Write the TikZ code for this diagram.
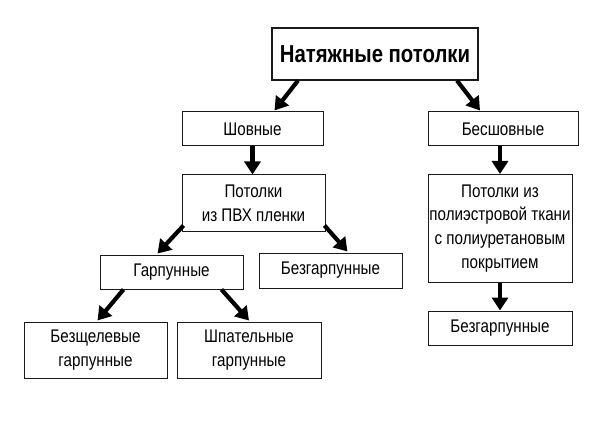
\documentclass[tikz,border=0pt]{standalone}
\usepackage{fontspec}
\setmainfont{Liberation Sans}[FakeStretch=0.83]
\usepackage{xcolor}
\definecolor{boxLine}{HTML}{1A1A1A}
\usepackage{tikz}
\usetikzlibrary{arrows.meta,positioning}
\tikzset{
  roottitle/.style={
    draw=boxLine,
    line width=1.1pt,
    minimum width=206pt,
    minimum height=52pt,
    inner sep=0pt,
    align=center,
    font=\fontsize{24.5}{28}\selectfont\bfseries
  },
  kindbox/.style={
    draw=boxLine,
    line width=1pt,
    minimum width=143pt,
    minimum height=34pt,
    inner sep=0pt,
    align=center,
    font=\fontsize{18.3}{23.8}\selectfont
  },
  kindarrow/.style={
    draw=black,
    line width=4.2pt,
    -{Triangle[length=13pt,width=16pt]}
  }
}
\begin{document}
\begin{tikzpicture}[x=1pt,y=-1pt]
  \useasboundingbox (0,0) rectangle (595,425);
  \node[roottitle] (root) at (375,54) {Натяжные потолки};
  \node[kindbox,minimum width=141pt] (seam) at (252.5,129) {Шовные};
  \node[kindbox,minimum width=150pt] (seamless) at (503,129) {Бесшовные};
  \node[kindbox,minimum height=57pt] (pvc) at (253.5,203.5) {Потолки\\из ПВХ пленки};
  \node[kindbox,minimum height=108pt,minimum width=144pt] (fabric) at (500,228.5) {Потолки из\\полиэстровой ткани\\с полиуретановым\\покрытием};
  \node[kindbox] (harpoon) at (171.5,272) {Гарпунные};
  \node[kindbox,minimum height=35pt] (noharpoon) at (330.5,270.5) {Безгарпунные};
  \node[kindbox,minimum width=144pt] (noharpoonB) at (500,328) {Безгарпунные};
  \node[kindbox,minimum height=56pt] (gapless) at (95.5,350) {Безщелевые\\гарпунные};
  \node[kindbox,minimum height=56pt,minimum width=144pt] (spatula) at (249,350) {Шпательные\\гарпунные};
  % arrows
  \draw[kindarrow] ([xshift=-77pt]root.south) -- ([xshift=22pt,yshift=1pt]seam.north);
  \draw[kindarrow] ([xshift=82pt]root.south) -- ([xshift=-23pt,yshift=1pt]seamless.north);
  \draw[kindarrow] (seam.south) -- (seam.south |- pvc.north);
  \draw[kindarrow] ([xshift=-3pt]seamless.south) -- ([xshift=-3pt]seamless.south |- fabric.north);
  \draw[kindarrow] ([xshift=2pt,yshift=7pt]pvc.south west) -- ([xshift=-14pt,yshift=1pt]harpoon.north);
  \draw[kindarrow] ([xshift=-1pt,yshift=7pt]pvc.south east) -- ([xshift=17pt,yshift=1pt]noharpoon.north);
  \draw[kindarrow] ([xshift=-48pt]harpoon.south) -- ([xshift=2pt,yshift=1pt]gapless.north);
  \draw[kindarrow] ([xshift=50pt]harpoon.south) -- ([xshift=0pt,yshift=1pt]spatula.north);
  \draw[kindarrow] (fabric.south) -- (noharpoonB.north);
\end{tikzpicture}
\end{document}
